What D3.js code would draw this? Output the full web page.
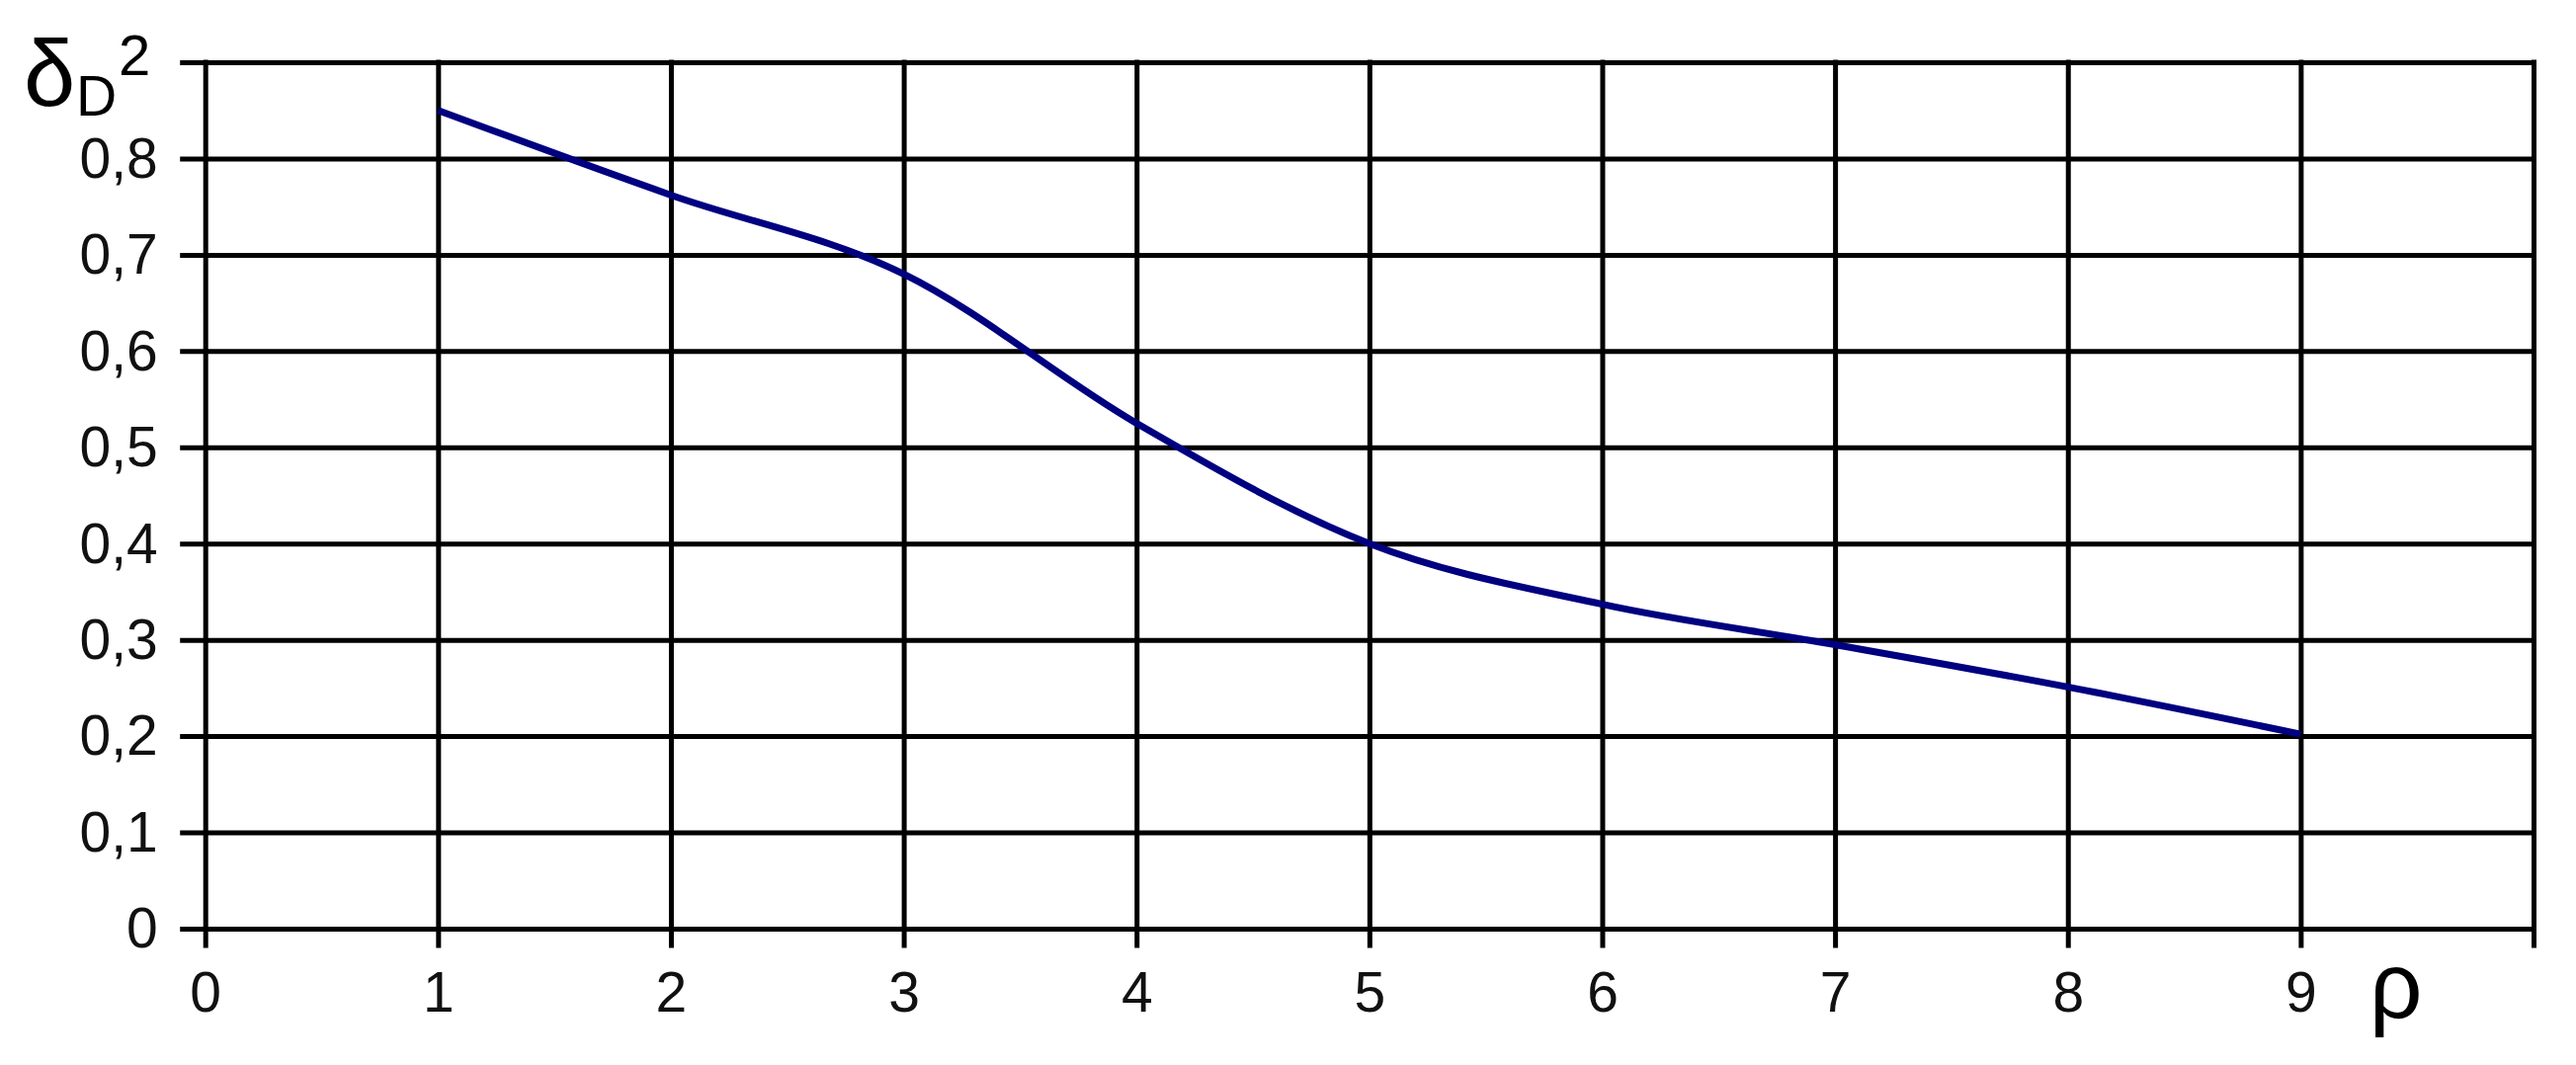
<!DOCTYPE html>
<html>
<head>
<meta charset="utf-8">
<script src="https://cdn.jsdelivr.net/npm/d3@7"></script>
<style>
  html, body { margin: 0; padding: 0; background: #fff; }
  svg { display: block; }
  text { font-family: "Liberation Sans", Arial, sans-serif; fill: #000; }
</style>
</head>
<body>
<svg id="chart" width="2607" height="1078"></svg>
<script>
// ---- data ----
const rho = [1, 2, 3, 4, 5, 6, 7, 8, 9];
const deltaD2 = [0.85, 0.762, 0.68, 0.525, 0.40, 0.337, 0.295, 0.251, 0.202];
const xTickValues = [0, 1, 2, 3, 4, 5, 6, 7, 8, 9, 10];
const xTickLabels = ["0", "1", "2", "3", "4", "5", "6", "7", "8", "9", ""];
const yTickValues = [0, 0.1, 0.2, 0.3, 0.4, 0.5, 0.6, 0.7, 0.8, 0.9];
const yTickLabels = ["0", "0,1", "0,2", "0,3", "0,4", "0,5", "0,6", "0,7", "0,8", ""];

(function () {
  // ---- layout ----
  const mLeft = 207.7, mRight = 2564, mTop = 63, mBottom = 940;
  const W = mRight - mLeft, H = mBottom - mTop;
  const yStub = 23, xStub = 17;
  const gridW = 5;

  const svg = d3.select("#chart");

  const x = d3.scaleLinear().domain([0, 10]).range([mLeft, mRight]);
  const y = d3.scaleLinear().domain([0, 0.9]).range([mBottom, mTop]);

  // Y axis with gridlines (horizontal lines including left stubs)
  const yAxis = d3.axisLeft(y)
    .tickValues(yTickValues)
    .tickFormat((d, i) => yTickLabels[i])
    .tickSizeInner(-(W + yStub))
    .tickSizeOuter(0)
    .tickPadding(25);

  const gy = svg.append("g")
    .attr("transform", `translate(${mLeft - yStub},0)`)
    .call(yAxis);
  gy.select(".domain").remove();
  gy.selectAll(".tick line").attr("stroke", "#000").attr("stroke-width", gridW).attr("stroke-linecap", "square");
  gy.selectAll(".tick text").style("font-size", "57px").attr("dy", "0.33em").style("fill", "#111");

  // X axis with gridlines (vertical lines including bottom stubs)
  const xAxis = d3.axisBottom(x)
    .tickValues(xTickValues)
    .tickFormat((d, i) => xTickLabels[i])
    .tickSizeInner(-(H + xStub))
    .tickSizeOuter(0)
    .tickPadding(27);

  const gx = svg.append("g")
    .attr("transform", `translate(0,${mBottom + xStub})`)
    .call(xAxis);
  gx.select(".domain").remove();
  gx.selectAll(".tick line").attr("stroke", "#000").attr("stroke-width", gridW).attr("stroke-linecap", "square");
  gx.selectAll(".tick text").style("font-size", "57px").style("fill", "#111");

  // Curve
  const line = d3.line()
    .x((d, i) => x(rho[i]))
    .y(d => y(d))
    .curve(d3.curveCardinal.tension(0));

  svg.append("path")
    .datum(deltaD2)
    .attr("fill", "none")
    .attr("stroke", "#000080")
    .attr("stroke-width", 7)
    .attr("stroke-linejoin", "round")
    .attr("d", line);

  // Axis titles
  const yTitle = svg.append("g");
  yTitle.append("text").attr("x", 24).attr("y", 107).style("font-size", "94px").text("δ");
  yTitle.append("text").attr("x", 77).attr("y", 117).style("font-size", "57px").text("D");
  yTitle.append("text").attr("x", 120).attr("y", 76).style("font-size", "58px").text("2");

  svg.append("text").attr("x", 2398).attr("y", 1030).style("font-size", "94px").text("ρ");
})();
</script>
</body>
</html>
